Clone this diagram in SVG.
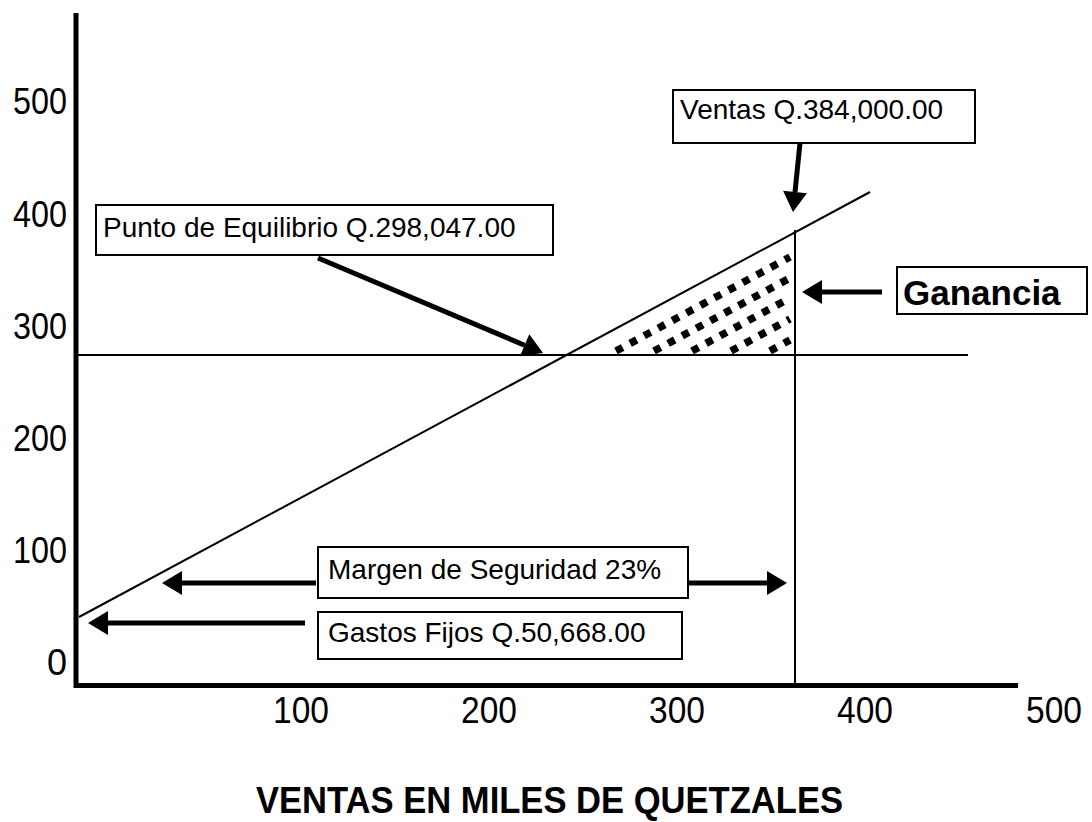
<svg xmlns="http://www.w3.org/2000/svg" width="1092" height="822" viewBox="0 0 1092 822">
<style>
text{font-family:"Liberation Sans",Arial,sans-serif;fill:#000}
.tick{font-size:36px}
.lbl{font-size:28px}
.box{fill:#fff;stroke:#000;stroke-width:2}
.thin{stroke:#000;stroke-width:2;fill:none}
.axis{stroke:#000;stroke-width:5;fill:none}
.arr{stroke:#000;stroke-width:5;fill:none;marker-end:url(#ah)}
.hatch{stroke:#000;stroke-width:7.5;stroke-dasharray:7.5 8.5;fill:none}
</style>
<defs>
<marker id="ah" markerUnits="userSpaceOnUse" markerWidth="22" markerHeight="26" refX="0" refY="12" orient="auto" overflow="visible">
<path d="M0,0 L20,12 L0,24 Z" fill="#000"/>
</marker>
</defs>
<rect width="1092" height="822" fill="#fff"/>
<g id="axes">
<line class="axis" x1="76" y1="13" x2="76" y2="688"/>
<line class="axis" x1="74" y1="685.5" x2="1018" y2="685.5"/>
<text class="tick" x="13" y="114" textLength="54" lengthAdjust="spacingAndGlyphs">500</text>
<text class="tick" x="13" y="227" textLength="54" lengthAdjust="spacingAndGlyphs">400</text>
<text class="tick" x="13" y="339" textLength="54" lengthAdjust="spacingAndGlyphs">300</text>
<text class="tick" x="13" y="451" textLength="54" lengthAdjust="spacingAndGlyphs">200</text>
<text class="tick" x="13" y="563" textLength="54" lengthAdjust="spacingAndGlyphs">100</text>
<text class="tick" x="67" y="675" text-anchor="end">0</text>
<text class="tick" x="273" y="723" textLength="56" lengthAdjust="spacingAndGlyphs">100</text>
<text class="tick" x="461" y="723" textLength="56" lengthAdjust="spacingAndGlyphs">200</text>
<text class="tick" x="649" y="723" textLength="56" lengthAdjust="spacingAndGlyphs">300</text>
<text class="tick" x="837" y="723" textLength="56" lengthAdjust="spacingAndGlyphs">400</text>
<text class="tick" x="1026" y="723" textLength="56" lengthAdjust="spacingAndGlyphs">500</text>
<text x="256" y="813" font-size="37" font-weight="bold" textLength="587" lengthAdjust="spacingAndGlyphs">VENTAS EN MILES DE QUETZALES</text>
</g>
<g id="chart-lines">
<line class="thin" x1="79" y1="617" x2="870" y2="192"/>
<line class="thin" x1="76" y1="355" x2="968" y2="355"/>
<line class="thin" x1="795" y1="230" x2="795" y2="686"/>
</g>
<g id="ganancia-hatch">
<line class="hatch" x1="616" y1="351" x2="790" y2="257"/>
<line class="hatch" x1="654" y1="351" x2="790" y2="278"/>
<line class="hatch" x1="692" y1="351" x2="790" y2="298"/>
<line class="hatch" x1="731" y1="351" x2="790" y2="319"/>
<line class="hatch" x1="770" y1="351" x2="790" y2="340"/>
</g>
<g id="connectors">
<line class="arr" x1="800" y1="143" x2="795" y2="192"/>
<line class="arr" x1="318" y1="258" x2="524.6" y2="345.2"/>
<line class="arr" x1="882" y1="292" x2="822" y2="292"/>
<line class="arr" x1="316" y1="583" x2="182" y2="583"/>
<line class="arr" x1="688" y1="583" x2="767" y2="583"/>
<line class="arr" x1="305" y1="623" x2="108" y2="623"/>
</g>
<g id="ventas">
<rect class="box" x="673" y="90" width="302" height="53"/>
<text class="lbl" x="680" y="119">Ventas Q.384,000.00</text>
</g>
<g id="punto-equilibrio">
<rect class="box" x="96" y="205" width="457" height="50"/>
<text class="lbl" x="103" y="237">Punto de Equilibrio Q.298,047.00</text>
</g>
<g id="ganancia">
<rect class="box" x="897" y="267" width="190" height="47"/>
<text x="903" y="305" font-size="35" font-weight="bold">Ganancia</text>
</g>
<g id="margen">
<rect class="box" x="318" y="547" width="370" height="51"/>
<text class="lbl" x="328" y="579">Margen de Seguridad 23%</text>
</g>
<g id="gastos">
<rect class="box" x="318" y="612" width="364" height="47"/>
<text class="lbl" x="328" y="642">Gastos Fijos Q.50,668.00</text>
</g>
</svg>
